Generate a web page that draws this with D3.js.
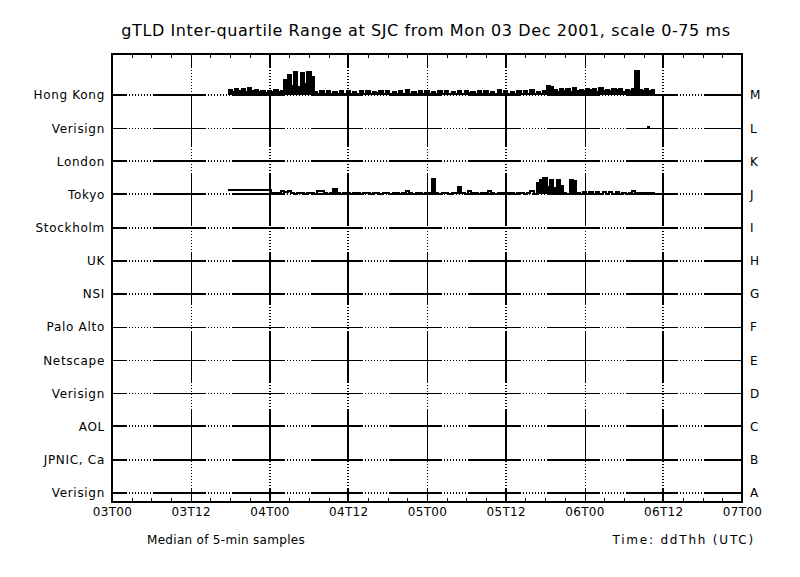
<!DOCTYPE html>
<html><head><meta charset="utf-8">
<script src="https://cdn.jsdelivr.net/npm/d3@7/dist/d3.min.js"></script>
<style>
body{margin:0;background:#fff;}
svg text{font-family:"DejaVu Sans",sans-serif;fill:#000;}
</style>
</head><body>
<svg id="chart" width="800" height="577"></svg>
<script>
// ---------------- data ----------------
const title = "gTLD Inter-quartile Range at SJC from Mon 03 Dec 2001, scale 0-75 ms";
const xNote = "Median of 5-min samples";
const xTitle = "Time: ddThh (UTC)";
// rows, bottom (A) to top (M)
const rowNames = ["Verisign","JPNIC, Ca","AOL","Verisign","Netscape","Palo Alto","NSI","UK","Stockholm","Tokyo","London","Verisign","Hong Kong"];
const rowLetters = ["A","B","C","D","E","F","G","H","I","J","K","L","M"];
const xTickLabels = ["03T00","03T12","04T00","04T12","05T00","05T12","06T00","06T12","07T00"];
const scaleMaxMs = 75;
// samples: hours after 03T00, every half hour
const sampleStartHour = 17.75;
const sampleStepHours = 0.5;
const hongKong = [
 12,6,14,9,13,7,15,10,12,8,
 9,5,10,6,11,7,9,
 34,45,20,52,18,50,25,52,40,
 6,2,9,3,10,2,8,3,9,2,
 10,3,8,2,9,3,10,2,8,4,
 9,2,10,3,8,2,9,3,11,2,
 8,3,10,2,9,3,8,2,10,3,
 9,2,8,3,10,2,9,4,8,2,
 10,3,9,2,8,3,11,2,9,3,
 8,2,10,3,9,2,11,3,8,2,10,
 20,18,
 12,7,14,9,13,8,15,10,12,9,14,
 11,13,8,15,10,12,9,14,11,13,8,
 12,10,14,
 54,
 12,9,13,10,11
];
const tokyo = [
 11,11,11,11,11,11,11,11,11,11,11,11,11,
 3,3,3,
 9,6,8,
 3,2,3,3,2,3,3,2,
 7,9,
 3,2,3,
 13,
 3,2,3,3,2,3,3,2,3,3,2,3,3,2,3,3,2,3,3,2,3,
 7,
 3,2,3,3,2,3,3,
 35,
 3,2,3,3,2,3,3,
 16,
 3,2,
 9,
 3,3,2,3,3,
 7,
 3,2,3,3,2,3,3,2,3,3,2,3,
 9,
 2,
 27,32,38,16,32,14,32,20,
 3,2,
 32,30,
 3,2,
 5,1,5,1,5,1,5,1,5,1,5,
 2,3,2,3,
 7,
 3,3,3,3,3,3
];
const verisignLHours = [81.5];
const verisignLValues = [2];

// ---------------- drawing ----------------
const svg = d3.select("#chart");
const L = 112, R = 742, T = 54, B = 502;
const x = d3.scaleLinear().domain([0, 96]).range([L, R]);
const y = d3.scaleLinear().domain([-0.28, 13.24]).range([B, T]);
const thickRows = new Set(["A","B","C","G","H","I","J","K","M"]);
const thickCols = new Set([24, 36, 60, 84]);

// dash pattern: long solid then a dotted stretch
const dotted = [];
for (let k = 0; k < 8; k++) dotted.push(1, 2);
const dash = [52.75, 2].concat(dotted).join(",");

// horizontal row lines
svg.append("g").selectAll("line").data(d3.range(rowNames.length)).join("line")
  .attr("x1", L).attr("x2", R)
  .attr("y1", d => Math.round(y(d))).attr("y2", d => Math.round(y(d)))
  .attr("stroke", "#000")
  .attr("stroke-width", d => thickRows.has(rowLetters[d]) ? 2 : 1)
  .attr("stroke-dasharray", dash)
  .attr("stroke-dashoffset", 37.75)
  .attr("shape-rendering", "crispEdges");

// vertical grid lines
const majorTicks = d3.range(12, 96, 12);
svg.append("g").selectAll("line").data(majorTicks).join("line")
  .attr("x1", d => Math.round(x(d))).attr("x2", d => Math.round(x(d)))
  .attr("y1", B).attr("y2", T)
  .attr("stroke", "#000")
  .attr("stroke-width", d => thickCols.has(d) ? 2 : 1)
  .attr("stroke-dasharray", dash)
  .attr("stroke-dashoffset", 38.75)
  .attr("shape-rendering", "crispEdges");

// data
function seriesPoints(vals) {
  const pts = vals.map((v, i) => ({h: sampleStartHour + i * sampleStepHours, v}));
  pts.push({h: sampleStartHour + vals.length * sampleStepHours, v: vals[vals.length - 1]});
  return pts;
}
function drawSeries(vals, row, fillMin) {
  const pts = seriesPoints(vals);
  const area = d3.area().curve(d3.curveStepAfter)
    .x(d => x(d.h)).y0(y(row))
    .y1(d => y(row + (d.v >= fillMin ? d.v : 0) / scaleMaxMs));
  svg.append("path").attr("d", area(pts)).attr("fill", "#000")
    .attr("shape-rendering", "crispEdges");
  const line = d3.line().curve(d3.curveStepAfter)
    .x(d => x(d.h)).y(d => y(row + d.v / scaleMaxMs));
  svg.append("path").attr("d", line(pts))
    .attr("fill", "none").attr("stroke", "#000").attr("stroke-width", 2)
    .attr("shape-rendering", "crispEdges");
}
drawSeries(hongKong, 12, 0);
drawSeries(tokyo, 9, 12);
verisignLHours.forEach((h, i) => {
  const yy = y(11 + verisignLValues[i] / scaleMaxMs);
  svg.append("path").attr("d", d3.line()([[x(h), yy], [x(h + sampleStepHours), yy]]))
    .attr("fill", "none").attr("stroke", "#000").attr("stroke-width", 3)
    .attr("shape-rendering", "crispEdges");
});

// frame
svg.append("rect").attr("x", L).attr("y", T).attr("width", R - L).attr("height", B - T)
  .attr("fill", "none").attr("stroke", "#000").attr("stroke-width", 2)
  .attr("shape-rendering", "crispEdges");

// minor ticks bottom & top
const minor = d3.range(0, 97, 3);
svg.append("g").attr("transform", `translate(0,${B})`)
  .call(d3.axisBottom(x).tickValues(minor).tickSize(-4).tickFormat(""))
  .call(g => g.select(".domain").remove())
  .call(g => g.selectAll("line").attr("stroke-width", 1).attr("shape-rendering", "crispEdges"));
svg.append("g").attr("transform", `translate(0,${T})`)
  .call(d3.axisTop(x).tickValues(minor).tickSize(-4).tickFormat(""))
  .call(g => g.select(".domain").remove())
  .call(g => g.selectAll("line").attr("stroke-width", 1).attr("shape-rendering", "crispEdges"));

// x labels
svg.append("g").attr("transform", `translate(0,${B})`)
  .call(d3.axisBottom(x).tickValues(d3.range(0, 97, 12)).tickSize(0).tickPadding(5)
    .tickFormat((d, i) => xTickLabels[i]))
  .call(g => g.select(".domain").remove())
  .call(g => g.selectAll("text").attr("font-size", 12).attr("font-family", "DejaVu Sans").attr("letter-spacing", 0.3));

// left labels
svg.append("g").attr("transform", `translate(${L},0)`)
  .call(d3.axisLeft(y).tickValues(d3.range(rowNames.length)).tickSize(0).tickPadding(7)
    .tickFormat(i => rowNames[i]))
  .call(g => g.select(".domain").remove())
  .call(g => g.selectAll("text").attr("font-size", 12).attr("font-family", "DejaVu Sans").attr("letter-spacing", 0.7));

// right labels
svg.append("g").attr("transform", `translate(${R},0)`)
  .call(d3.axisRight(y).tickValues(d3.range(rowLetters.length)).tickSize(0).tickPadding(8)
    .tickFormat(i => rowLetters[i]))
  .call(g => g.select(".domain").remove())
  .call(g => g.selectAll("text").attr("font-size", 12).attr("font-family", "DejaVu Sans"));

// title & notes
svg.append("text").attr("x", 426).attr("y", 36).attr("text-anchor", "middle")
  .attr("font-size", 16).attr("letter-spacing", 0.6).text(title);
svg.append("text").attr("x", 147).attr("y", 544).attr("font-size", 12).attr("letter-spacing", 0.3).text(xNote);
svg.append("text").attr("x", 755).attr("y", 544).attr("text-anchor", "end").attr("font-size", 12).attr("letter-spacing", 1.8).text(xTitle);
</script>
</body></html>
